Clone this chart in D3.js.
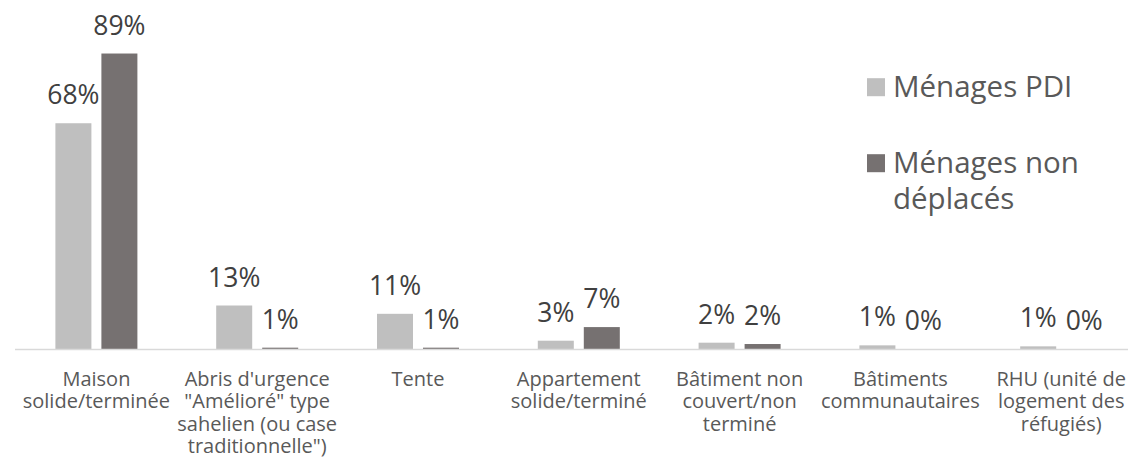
<!DOCTYPE html>
<html>
<head>
<meta charset="utf-8">
<script src="https://cdn.jsdelivr.net/npm/d3@7"></script>
<style>
  html, body { margin: 0; padding: 0; background: #fff; }
  svg { display: block; font-family: "Open Sans", "Noto Sans", sans-serif; }
</style>
</head>
<body>
<svg id="chart" width="1128" height="463"></svg>
<script>
// ---- data ----
const categories = [
  "Maison solide/terminée",
  "Abris d'urgence \"Amélioré\" type sahelien (ou case traditionnelle\")",
  "Tente",
  "Appartement solide/terminé",
  "Bâtiment non couvert/non terminé",
  "Bâtiments communautaires",
  "RHU (unité de logement des réfugiés)"
];
const categoryLines = [
  ["Maison", "solide/terminée"],
  ["Abris d'urgence", "\"Amélioré\" type", "sahelien (ou case", "traditionnelle\")"],
  ["Tente"],
  ["Appartement", "solide/terminé"],
  ["Bâtiment non", "couvert/non", "terminé"],
  ["Bâtiments", "communautaires"],
  ["RHU (unité de", "logement des", "réfugiés)"]
];
const seriesNames = ["Ménages PDI", "Ménages non déplacés"];
const pdiValues = [68, 13.1, 10.6, 2.5, 1.9, 1.1, 0.8];
const nonDeplacesValues = [89, 0.4, 0.4, 6.6, 1.5, 0, 0];
const pdiLabels = ["68%", "13%", "11%", "3%", "2%", "1%", "1%"];
const nonDeplacesLabels = ["89%", "1%", "1%", "7%", "2%", "0%", "0%"];

const colors = ["#bfbfbf", "#767171"];

// ---- layout ----
const svg = d3.select("#chart");
const baseY = 349;

const x0 = d3.scaleBand().domain(categories).range([16, 16 + 7 * 160.8]).paddingInner(0).paddingOuter(0);
const x1 = d3.scaleBand().domain(seriesNames).range([-41, 41]).paddingInner(2 - 82 / 46).paddingOuter(0);
const y = d3.scaleLinear().domain([0, 100]).range([baseY, baseY - 332]);

const rows = categories.map((c, i) => ({
  cat: c,
  vals: [
    { s: seriesNames[0], v: pdiValues[i], label: pdiLabels[i] },
    { s: seriesNames[1], v: nonDeplacesValues[i], label: nonDeplacesLabels[i] }
  ]
}));

const groups = svg.selectAll("g.cat").data(rows).join("g")
  .attr("class", "cat")
  .attr("transform", d => `translate(${x0(d.cat) + x0.bandwidth() / 2},0)`);

groups.selectAll("rect").data(d => d.vals).join("rect")
  .attr("x", d => x1(d.s))
  .attr("width", x1.bandwidth())
  .attr("y", d => y(d.v))
  .attr("height", d => baseY - y(d.v))
  .attr("fill", (d, i) => colors[i]);

groups.selectAll("text.val").data(d => d.vals).join("text")
  .attr("class", "val")
  .attr("x", d => x1(d.s) + x1.bandwidth() / 2)
  .attr("y", d => y(d.v) - 19)
  .attr("text-anchor", "middle")
  .attr("font-size", 26.5)
  .attr("fill", "#404040")
  .text(d => d.label);

// axis line
svg.append("line")
  .attr("x1", 15).attr("x2", 1128)
  .attr("y1", baseY + 0.5).attr("y2", baseY + 0.5)
  .attr("stroke", "#d9d9d9").attr("stroke-width", 1.5);

// category labels
const xAxis = d3.axisBottom(x0).tickSize(0).tickFormat("");
const axG = svg.append("g").attr("transform", `translate(0,${baseY})`).call(xAxis);
axG.select(".domain").remove();
axG.selectAll(".tick").each(function(d, i) {
  const t = d3.select(this).append("text")
    .attr("text-anchor", "middle")
    .attr("font-size", 20)
    .attr("fill", "#595959")
    .attr("font-family", '"Open Sans", "Noto Sans", sans-serif');
  categoryLines[i].forEach((line, j) => {
    t.append("tspan").attr("x", 0).attr("y", 37 + j * 22.4).text(line);
  });
});

// legend
const legend = [
  { name: seriesNames[0], lines: ["Ménages PDI"], y: 96.7 },
  { name: seriesNames[1], lines: ["Ménages non", "déplacés"], y: 172.7 }
];
legend.forEach((l, i) => {
  svg.append("rect")
    .attr("x", 867).attr("y", l.y - 18.5)
    .attr("width", 18).attr("height", 18)
    .attr("fill", colors[i]);
  l.lines.forEach((line, j) => {
    svg.append("text")
      .attr("x", 893).attr("y", l.y + j * 36)
      .attr("font-size", 29.5)
      .attr("fill", "#595959")
      .text(line);
  });
});
</script>
</body>
</html>
